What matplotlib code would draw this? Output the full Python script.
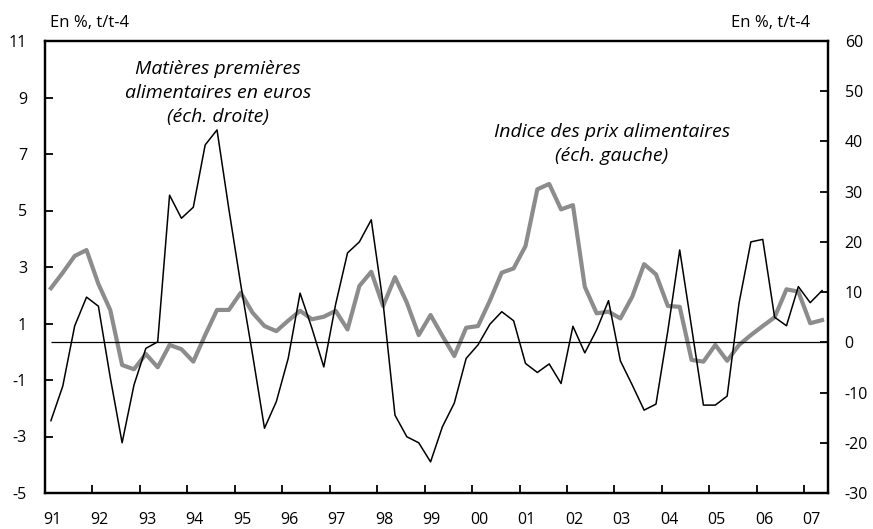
"""Prix alimentaires vs matières premières alimentaires (glissement annuel)."""

import matplotlib

matplotlib.use("Agg")
import matplotlib.pyplot as plt
import numpy as np

# quarterly data, 1991Q1 -> 2007Q2
years = ["91", "92", "93", "94", "95", "96", "97", "98", "99",
         "00", "01", "02", "03", "04", "05", "06", "07"]

# Indice des prix alimentaires (left axis, %)
food_prices = [
    2.25, 2.8, 3.39, 3.60, 2.40, 1.48, -0.47, -0.62,
    -0.08, -0.55, 0.24, 0.09, -0.35, 0.59, 1.48, 1.48,
    2.09, 1.38, 0.91, 0.73, 1.10, 1.45, 1.15, 1.24,
    1.45, 0.79, 2.33, 2.83, 1.62, 2.64, 1.74, 0.59,
    1.30, 0.56, -0.15, 0.85, 0.91, 1.81, 2.80, 2.95,
    3.74, 5.75, 5.94, 5.04, 5.19, 2.30, 1.36, 1.42,
    1.18, 1.95, 3.10, 2.74, 1.62, 1.59, -0.29, -0.35,
    0.24, -0.32, 0.24, 0.59, 0.91, 1.22, 2.21, 2.13,
    1.01, 1.12,
]

# Matières premières alimentaires en euros (right axis, %)
raw_materials = [
    -15.6, -8.7, 3.25, 9.0, 7.2, -7.0, -20.0, -8.5,
    -1.2, 0.1, 29.3, 24.7, 26.9, 39.3, 42.3, 26.5,
    11.5, -2.5, -17.1, -11.8, -3.2, 9.8, 2.8, -4.9,
    7.6, 17.8, 20.0, 24.4, 7.8, -14.5, -18.8, -20.0,
    -23.8, -16.8, -12.1, -3.2, -0.5, 3.6, 6.1, 4.3,
    -4.2, -6.0, -4.3, -8.2, 3.2, -2.1, 2.5, 8.3,
    -3.7, -8.5, -13.5, -12.3, 2.3, 18.4, 3.0, -12.5,
    -12.5, -10.7, 7.8, 20.0, 20.5, 5.0, 3.3, 11.1,
    7.9, 10.3,
]

left_ticks = [11, 9, 7, 5, 3, 1, -1, -3, -5]
right_ticks = [60, 50, 40, 30, 20, 10, 0, -10, -20, -30]

plt.rcParams["font.family"] = ["Open Sans", "DejaVu Sans"]
plt.rcParams["axes.unicode_minus"] = False

n = len(food_prices)
x = np.arange(n) + 0.5

fig = plt.figure(figsize=(8.73, 5.29), dpi=100)
ax = fig.add_axes([45 / 873, 1 - 493 / 529, 783 / 873, 452 / 529])
ax2 = ax.twinx()

ax.plot(x, food_prices, color="#8c8c8c", linewidth=3.0, zorder=2)
ax2.plot(x, raw_materials, color="black", linewidth=1.1, zorder=3)
ax2.hlines(0, x[0], n, color="black", linewidth=0.9, zorder=1)

# keep the black line above the grey one
ax.set_zorder(ax2.get_zorder() - 1)
ax.patch.set_visible(False)

ax.set_xlim(0, n)
ax.set_ylim(-5, 11)
ax2.set_ylim(-30, 60)
ax.set_yticks(left_ticks)
ax2.set_yticks(right_ticks)

# ticks at year boundaries, labels under the first quarter
ax.set_xticks(np.arange(4, n, 4))
ax.set_xticklabels([])
ax.set_xticks(np.arange(len(years)) * 4 + 0.6, minor=True)
ax.set_xticklabels(years, minor=True)
ax.tick_params(axis="x", which="major", direction="in", length=6, width=1.3)
ax.tick_params(axis="x", which="minor", length=0, pad=14, labelsize=11.5)
ax.tick_params(axis="y", direction="in", length=6, width=1.3, pad=13, labelsize=11.5)
ax2.tick_params(axis="y", direction="in", length=6, width=1.3, pad=12, labelsize=11.5)

for a in (ax, ax2):
    for sp in a.spines.values():
        sp.set_linewidth(1.6)

fig.text(50 / 873, 1 - 23 / 529, "En %, t/t-4", fontsize=12, ha="left", va="center")
fig.text(810 / 873, 1 - 23 / 529, "En %, t/t-4", fontsize=12, ha="right", va="center")

fig.text(218 / 873, 1 - 93 / 529,
         "Matières premières\nalimentaires en euros\n(éch. droite)",
         fontsize=14, style="italic", ha="center", va="center", linespacing=1.45)
fig.text(612 / 873, 1 - 144 / 529,
         "Indice des prix alimentaires\n(éch. gauche)",
         fontsize=14, style="italic", ha="center", va="center", linespacing=1.45)

fig.savefig("out.png", dpi=100)
